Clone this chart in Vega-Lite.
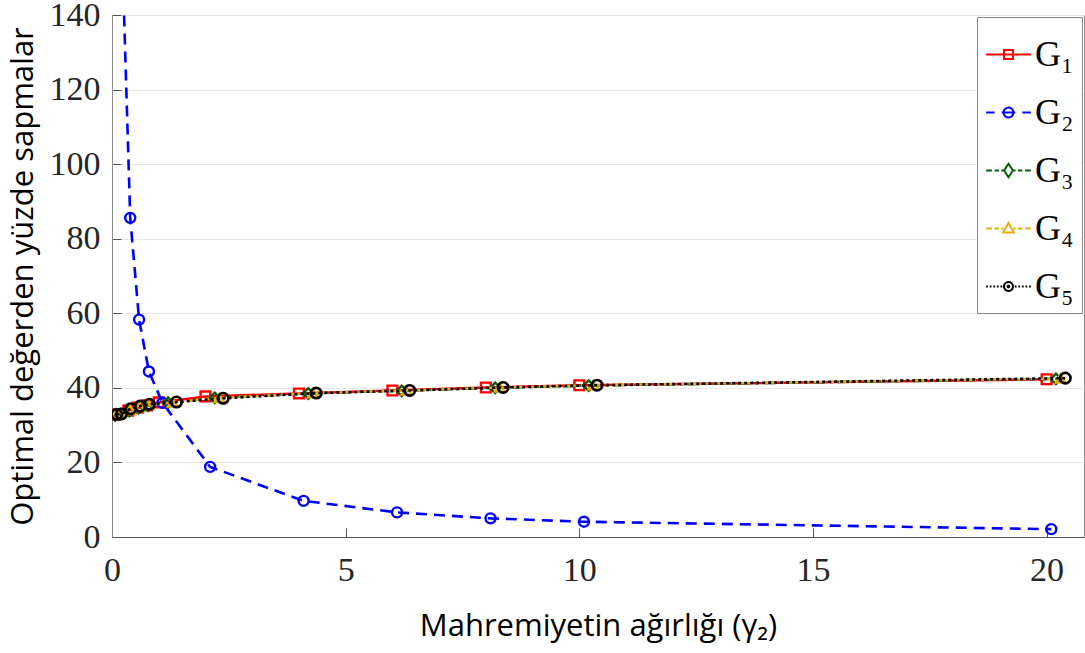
{
  "$schema": "https://vega.github.io/schema/vega-lite/v6.json",
  "autosize": "none",
  "width": 972,
  "height": 522,
  "padding": {"left": 112, "top": 15, "right": 1, "bottom": 116},
  "background": "white",
  "config": {
    "view": {"stroke": "#8c8c8c", "strokeWidth": 1},
    "axis": {
      "labelFont": "Liberation Serif",
      "labelFontSize": 34,
      "labelColor": "#262626",
      "labelFlush": false,
      "titleFont": "Open Sans",
      "titleFontWeight": "normal",
      "titleFontSize": 31,
      "titleColor": "#000000",
      "tickSize": -9,
      "tickColor": "#555555",
      "domainColor": "#8c8c8c",
      "gridColor": "#e8e8e8",
      "gridWidth": 1
    }
  },
  "data": {
    "values": [
      {"series": "G1", "x": 0.05, "y": 32.8},
      {"series": "G1", "x": 0.15, "y": 33.0},
      {"series": "G1", "x": 0.35, "y": 33.9},
      {"series": "G1", "x": 0.55, "y": 34.7},
      {"series": "G1", "x": 0.75, "y": 35.3},
      {"series": "G1", "x": 1.0, "y": 36.1},
      {"series": "G1", "x": 2.0, "y": 37.7},
      {"series": "G1", "x": 4.0, "y": 38.5},
      {"series": "G1", "x": 6.0, "y": 39.3},
      {"series": "G1", "x": 8.0, "y": 40.1},
      {"series": "G1", "x": 10.0, "y": 40.7},
      {"series": "G1", "x": 20.0, "y": 42.3},
      {"series": "G2", "x": 0.2, "y": 164},
      {"series": "G2", "x": 0.39, "y": 85.6},
      {"series": "G2", "x": 0.58, "y": 58.3},
      {"series": "G2", "x": 0.79, "y": 44.4},
      {"series": "G2", "x": 1.08, "y": 36.0},
      {"series": "G2", "x": 2.1, "y": 18.8},
      {"series": "G2", "x": 4.1, "y": 9.7},
      {"series": "G2", "x": 6.1, "y": 6.6},
      {"series": "G2", "x": 8.1, "y": 5.0},
      {"series": "G2", "x": 10.1, "y": 4.1},
      {"series": "G2", "x": 20.1, "y": 2.1},
      {"series": "G3", "x": 0.07, "y": 32.6},
      {"series": "G3", "x": 0.17, "y": 32.9},
      {"series": "G3", "x": 0.37, "y": 33.8},
      {"series": "G3", "x": 0.57, "y": 34.6},
      {"series": "G3", "x": 0.77, "y": 35.2},
      {"series": "G3", "x": 1.2, "y": 36.0},
      {"series": "G3", "x": 2.2, "y": 37.3},
      {"series": "G3", "x": 4.2, "y": 38.5},
      {"series": "G3", "x": 6.2, "y": 39.2},
      {"series": "G3", "x": 8.2, "y": 40.0},
      {"series": "G3", "x": 10.2, "y": 40.6},
      {"series": "G3", "x": 20.2, "y": 42.4},
      {"series": "G4", "x": 0.08, "y": 33.0},
      {"series": "G4", "x": 0.18, "y": 33.2},
      {"series": "G4", "x": 0.39, "y": 34.1},
      {"series": "G4", "x": 0.59, "y": 34.9},
      {"series": "G4", "x": 0.79, "y": 35.4},
      {"series": "G4", "x": 1.3, "y": 36.1},
      {"series": "G4", "x": 2.3, "y": 37.3},
      {"series": "G4", "x": 4.3, "y": 38.6},
      {"series": "G4", "x": 6.3, "y": 39.3},
      {"series": "G4", "x": 8.3, "y": 40.1},
      {"series": "G4", "x": 10.3, "y": 40.7},
      {"series": "G4", "x": 20.3, "y": 42.5},
      {"series": "G5", "x": 0.1, "y": 32.9},
      {"series": "G5", "x": 0.2, "y": 33.0},
      {"series": "G5", "x": 0.4, "y": 34.4},
      {"series": "G5", "x": 0.6, "y": 35.1},
      {"series": "G5", "x": 0.8, "y": 35.6},
      {"series": "G5", "x": 1.38, "y": 36.2},
      {"series": "G5", "x": 2.38, "y": 37.2},
      {"series": "G5", "x": 4.37, "y": 38.6},
      {"series": "G5", "x": 6.37, "y": 39.3},
      {"series": "G5", "x": 8.37, "y": 40.1},
      {"series": "G5", "x": 10.38, "y": 40.7},
      {"series": "G5", "x": 20.4, "y": 42.6}
    ]
  },
  "encoding": {
    "x": {
      "field": "x",
      "type": "quantitative",
      "scale": {"domain": [0, 20.8], "nice": false, "zero": false},
      "axis": {
        "title": "Mahremiyetin ağırlığı (γ₂)",
        "values": [0, 5, 10, 15, 20],
        "grid": false,
        "labelBaseline": "top",
        "labelPadding": 25,
        "titlePadding": 24,
        "domainColor": "#555555"
      }
    },
    "y": {
      "field": "y",
      "type": "quantitative",
      "scale": {"domain": [0, 140], "nice": false},
      "axis": {
        "title": "Optimal değerden yüzde sapmalar",
        "values": [0, 20, 40, 60, 80, 100, 120, 140],
        "grid": true,
        "labelPadding": 21,
        "titlePadding": 10
      }
    },
    "color": {
      "field": "series",
      "type": "nominal",
      "scale": {
        "domain": ["G1", "G2", "G3", "G4", "G5"],
        "range": ["#ff0000", "#0000ff", "#0b5c0b", "#e6ad14", "#000000"]
      },
      "legend": {
        "title": " ",
        "titleFontSize": 6,
        "titlePadding": 0,
        "orient": "top-right",
        "offset": 2,
        "padding": 8,
        "rowPadding": 16,
        "strokeColor": "#8c8c8c",
        "fillColor": "#ffffff",
        "symbolSize": 2000,
        "symbolStrokeWidth": 2,
        "labelFont": "Liberation Serif",
        "labelFontSize": 36,
        "labelColor": "#000000",
        "labelOffset": 3,
        "labelExpr": "'G' + ['₁','₂','₃','₄','₅'][toNumber(substring(datum.label, 1)) - 1]",
        "encode": {
          "symbols": {
            "update": {
              "shape": {"signal": "datum.value === 'G1' ? 'M-1,0H1M-0.2,-0.2H0.2V0.2H-0.2Z' : datum.value === 'G2' ? 'M-1,0H-0.62M-0.3,0H0.3M0.62,0H1M0.22,0A0.22,0.22 0 1,1 -0.22,0A0.22,0.22 0 1,1 0.22,0Z' : datum.value === 'G3' ? 'M-1,0H-0.74M-0.62,0H-0.42M-0.32,0H-0.22M0.22,0H0.32M0.42,0H0.62M0.74,0H1M0,-0.3L0.2,0L0,0.3L-0.2,0Z' : datum.value === 'G4' ? 'M-1,0H-0.74M-0.62,0H-0.42M-0.32,0H-0.22M0.22,0H0.32M0.42,0H0.62M0.74,0H1M0,-0.25L0.24,0.18H-0.24Z' : 'M-1,0H-0.92M-0.84,0H-0.76M-0.68,0H-0.6M-0.52,0H-0.44M-0.36,0H-0.28M0.28,0H0.36M0.44,0H0.52M0.6,0H0.68M0.76,0H0.84M0.92,0H1M0.2,0A0.2,0.2 0 1,1 -0.2,0A0.2,0.2 0 1,1 0.2,0ZM0.04,0A0.04,0.04 0 1,1 -0.04,0A0.04,0.04 0 1,1 0.04,0Z'"},
              "size": {"value": 2000},
              "fill": {"value": "transparent"},
              "strokeDash": {"value": [1, 0]},
              "strokeWidth": {"value": 2},
              "opacity": {"value": 1}
            }
          }
        }
      }
    }
  },
  "layer": [
    {
      "transform": [{"filter": "datum.series === 'G1'"}],
      "mark": {"type": "line", "clip": true, "strokeWidth": 2.5,
        "point": {"shape": "square", "filled": false, "size": 95, "strokeWidth": 2.4}}
    },
    {
      "transform": [{"filter": "datum.series === 'G2'"}],
      "mark": {"type": "line", "clip": true, "strokeWidth": 2.6, "strokeDash": [11, 7],
        "point": {"shape": "circle", "filled": false, "size": 100, "strokeWidth": 2.4}}
    },
    {
      "transform": [{"filter": "datum.series === 'G3'"}],
      "mark": {"type": "line", "clip": true, "strokeWidth": 2.4, "strokeDash": [12, 5, 3, 5],
        "point": {"shape": "diamond", "filled": false, "size": 110, "strokeWidth": 2.4}}
    },
    {
      "transform": [{"filter": "datum.series === 'G4'"}],
      "mark": {"type": "line", "clip": true, "strokeWidth": 2.4, "strokeDash": [12, 5, 3, 5],
        "point": {"shape": "triangle-up", "filled": false, "size": 90, "strokeWidth": 2.4}}
    },
    {
      "transform": [{"filter": "datum.series === 'G5'"}],
      "mark": {"type": "line", "clip": true, "strokeWidth": 2.6, "strokeDash": [3, 3],
        "point": {"shape": "circle", "filled": false, "size": 110, "strokeWidth": 2.6}}
    }
  ]
}
